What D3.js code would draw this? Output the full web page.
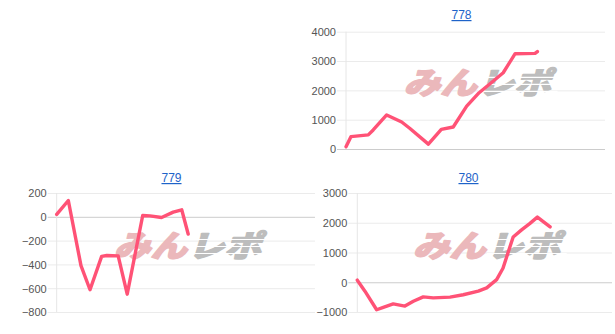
<html>
<head>
<meta charset="utf-8">
<script src="https://d3js.org/d3.v7.min.js"></script>
<style>
  body { margin: 0; background: white; }
  svg { display: block; }
  .tick text { font-family: "Liberation Sans", Arial, sans-serif; font-size: 11px; fill: #555; }
  .title { font-family: "Liberation Sans", Arial, sans-serif; font-size: 12px; fill: #1e63c9; text-decoration: underline; }
</style>
</head>
<body>
<svg id="chart" width="615" height="334"></svg>
<script>
// machine numbers shown as chart titles
const titles = ["778", "779", "780"];

// x = position along the (unlabelled) horizontal axis, 0..100
const t778 = [0, 1.9, 8.6, 10.5, 15.7, 21.5, 24.7, 31.8, 36.8, 41.4, 46.6, 51.4, 56.9, 60.7, 65.3, 73, 73.9];
const v778 = [80, 420, 480, 650, 1160, 920, 700, 165, 670, 750, 1460, 1920, 2320, 2600, 3250, 3260, 3320];

const t779 = [0, 4.5, 9.4, 12.9, 17.4, 19.4, 23.8, 27.3, 33.3, 36.1, 40.6, 45.1, 48.4, 50.9];
const v779 = [20, 137, -410, -613, -333, -325, -328, -650, 11, 8, -6, 39, 59, -145];

const t780 = [0, 3.0, 7.6, 10.2, 14.1, 18.7, 22.0, 25.9, 29.8, 36.4, 41.6, 47.5, 50.8, 54.7, 57.2, 59.2, 61.2, 64.5, 67.8, 70.7, 75.7];
const v780 = [70, -300, -925, -842, -727, -800, -640, -490, -525, -500, -420, -300, -190, 90, 470, 1000, 1520, 1760, 1980, 2190, 1860];

// y axis tick labels
const ticks778 = [0, 1000, 2000, 3000, 4000];
const ticks779 = [-800, -600, -400, -200, 0, 200];
const ticks780 = [-1000, 0, 1000, 2000, 3000];

const svg = d3.select("svg#chart");

const charts = [
  { title: titles[0], t: t778, v: v778, ticks: ticks778, left: 346, right: 605, top: 31.7, bottom: 149, titleX: 461.5, titleY: 19 },
  { title: titles[1], t: t779, v: v779, ticks: ticks779, left: 56.7, right: 315, top: 193, bottom: 312, titleX: 171.5, titleY: 182 },
  { title: titles[2], t: t780, v: v780, ticks: ticks780, left: 357.3, right: 612, top: 193, bottom: 312, titleX: 468.5, titleY: 182 }
];

charts.forEach((c, ci) => {
  const g = svg.append("g");
  const w = c.right - c.left;

  const x = d3.scaleLinear().domain([0, 100]).range([c.left, c.right]);
  const y = d3.scaleLinear().domain(d3.extent(c.ticks)).range([c.bottom, c.top]);

  // gridlines + labels through the axis
  const axis = g.append("g")
    .attr("transform", `translate(${c.left - 9},0)`)
    .call(d3.axisLeft(y).tickValues(c.ticks).tickSize(-(w + 9)).tickPadding(1).tickFormat(d3.format("d")));
  axis.select(".domain").remove();
  axis.selectAll(".tick line").attr("stroke", d => d === 0 ? "#cccccc" : "#ebebeb");
  axis.selectAll(".tick text").attr("dy", "0.36em");

  // vertical axis line
  g.append("line")
    .attr("x1", c.left).attr("x2", c.left)
    .attr("y1", c.top).attr("y2", c.bottom)
    .attr("stroke", "#e6e6e6");

  // watermark logo
  const cx = (c.left + c.right) / 2, cy = (c.top + c.bottom) / 2 - 7;
  const wm = g.append("g").attr("transform", `translate(${cx},${cy + 11}) scale(1.14,0.95) skewX(-14)`)
    .style("font-family", "'Noto Sans CJK JP', sans-serif")
    .style("font-weight", 900)
    .style("font-size", "32px")
    .attr("stroke-width", 1.6)
    .attr("stroke-linejoin", "round");
  wm.append("text").attr("text-anchor", "end").attr("x", 1)
    .attr("fill", "#ebb8bb").attr("stroke", "#ebb8bb").text("みん");
  wm.append("text").attr("text-anchor", "start").attr("x", 2)
    .attr("fill", "#bdbdbd").attr("stroke", "#bdbdbd").text("レポ");
  // speed-line stripes cut through the grey half
  const clipId = "wmclip" + ci;
  g.append("clipPath").attr("id", clipId)
    .append("rect").attr("x", cx + 2).attr("y", cy - 16).attr("width", 80).attr("height", 32);
  [-6, 1, 8].forEach(dy => {
    g.append("line")
      .attr("clip-path", `url(#${clipId})`)
      .attr("x1", cx).attr("x2", cx + 90)
      .attr("y1", cy + dy).attr("y2", cy + dy)
      .attr("stroke", "white").attr("stroke-width", 1.2);
  });

  // title
  g.append("text")
    .attr("class", "title")
    .attr("x", c.titleX).attr("y", c.titleY)
    .attr("text-anchor", "middle")
    .text(c.title);

  // the line
  const pts = c.t.map((d, i) => [d, c.v[i]]);
  g.append("path")
    .datum(pts)
    .attr("fill", "none")
    .attr("stroke", "#ff5276")
    .attr("stroke-width", 3.4)
    .attr("stroke-linejoin", "round")
    .attr("stroke-linecap", "round")
    .attr("d", d3.line().x(d => x(d[0])).y(d => y(d[1])));
});
</script>
</body>
</html>
